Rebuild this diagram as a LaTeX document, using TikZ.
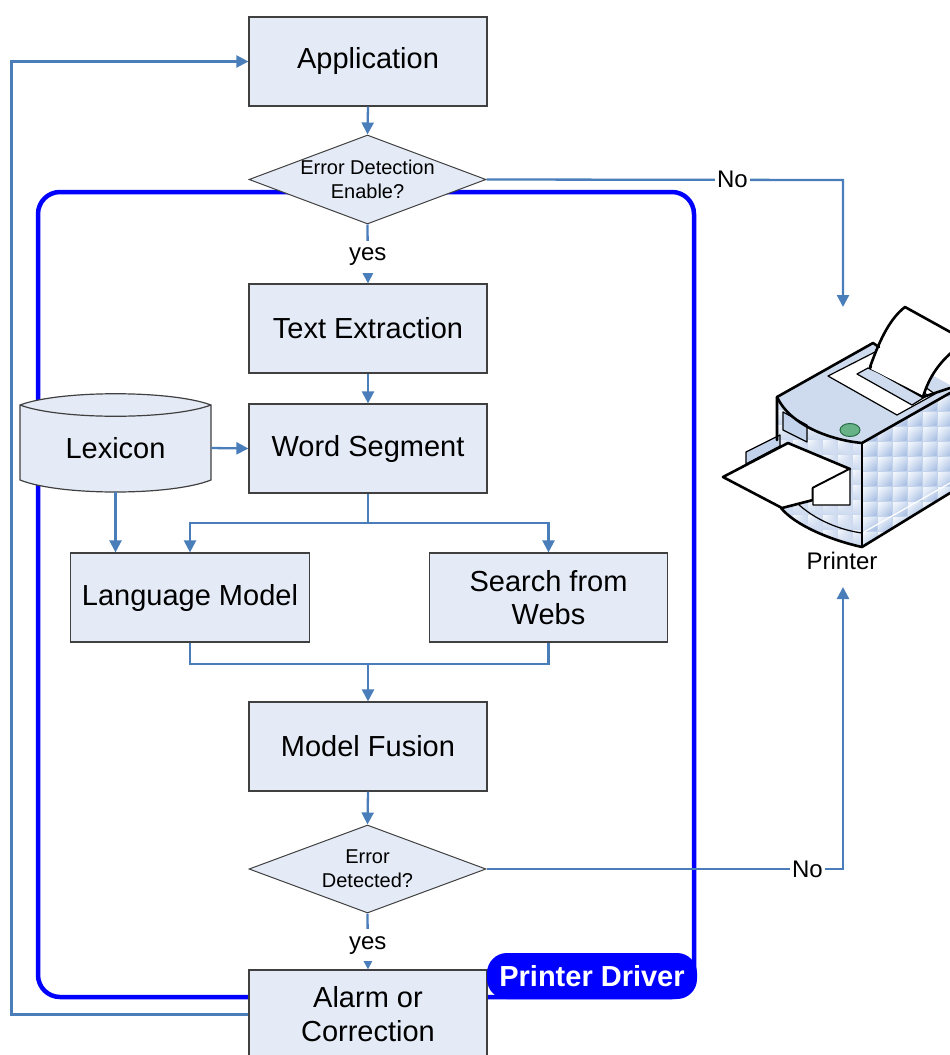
\documentclass[tikz,border=0pt]{standalone}
\usepackage{fontspec}
\setmainfont{Liberation Sans}
\usetikzlibrary{arrows.meta,shapes.geometric,calc,shadings}
\definecolor{flowline}{RGB}{74,126,187}
\definecolor{boxfill}{RGB}{228,235,246}
\definecolor{boxedge}{RGB}{64,64,64}
\definecolor{drvblue}{RGB}{0,0,255}
\definecolor{prtop}{RGB}{206,219,239}
\definecolor{prside}{RGB}{196,211,236}
\definecolor{prfront}{RGB}{204,217,238}
\definecolor{cellA}{RGB}{246,249,253}
\definecolor{cellB}{RGB}{210,223,242}
\definecolor{cellC}{RGB}{162,186,225}
\definecolor{btnfill}{RGB}{104,178,136}
\definecolor{btnedge}{RGB}{40,110,70}
\begin{document}
\begin{tikzpicture}[x=1pt,y=-1pt,
  box/.style={draw=boxedge, line width=1.2pt, fill=boxfill, minimum width=238pt,
    minimum height=89pt, inner sep=0pt, align=center, font=\fontsize{29}{33}\selectfont},
  decision/.style={diamond, draw=boxedge, line width=1pt, fill=boxfill,
    minimum width=237pt, minimum height=89pt, inner sep=0pt},
  qtext/.style={font=\fontsize{20}{24}\selectfont, align=center},
  arr/.style={draw=flowline, line width=2.3pt, -{Triangle[length=12pt,width=12pt]}},
  plain/.style={draw=flowline, line width=2.3pt},
  lbl/.style={fill=white, font=\fontsize{24}{28}\selectfont, inner xsep=2pt, inner ysep=4pt},
  prline/.style={draw=black, line width=2.6pt, line join=round, line cap=round},
  prthin/.style={draw=black, line width=1.2pt, line join=round}
]
\useasboundingbox (0,0) rectangle (950,1055);

% printer driver frame
\draw[drvblue, line width=4.5pt, rounded corners=22pt] (38,192) rectangle (694,997);

% flow nodes
\node[box] (app) at (368,61.5) {Application};
\node[decision, label={[qtext]center:Error Detection\\Enable?}] (d1) at (367.5,179.5) {};
\node[box] (tx) at (368,328.5) {Text Extraction};
\node[box] (ws) at (368,448.5) {Word Segment};
\node[box, minimum width=239pt] (lm) at (190,597.5) {Language Model};
\node[box] (sw) at (548.5,597.5) {Search from\\Webs};
\node[box] (mf) at (368,746.5) {Model Fusion};
\node[decision, minimum height=88pt, label={[qtext]center:Error\\Detected?}] (d2) at (367.5,869) {};
\node[box, font=\fontsize{29}{34}\selectfont] (al) at (368,1014.5) {Alarm or\\Correction};

% lexicon store
\draw[draw=boxedge, line width=1.2pt, fill=boxfill]
  (20,405) .. controls (60,390) and (171,390) .. (211,405) -- (211,480)
  .. controls (171,496) and (60,496) .. (20,480) -- cycle;
\draw[draw=boxedge, line width=1.2pt] (20,405) .. controls (60,420) and (171,420) .. (211,405);
\node[minimum width=191pt, minimum height=88pt, inner sep=0pt,
  font=\fontsize{29}{33}\selectfont] (lex) at (115.5,448) {Lexicon};

% driver tag
\node[fill=drvblue, rounded corners=20pt, minimum width=210pt, minimum height=46pt,
  inner sep=0pt, text=white, font=\bfseries\fontsize{29}{33}\selectfont] (pd) at (592,976) {Printer Driver};

% junction points
\coordinate (mj) at (368,664);
\coordinate (noA) at (843,180);
\coordinate (noB) at (843,869);
\coordinate (prTop) at (843,307);
\coordinate (prBot) at (843,587);

% connectors
\draw[arr] (app.south) -- (d1.north);
\draw[arr] (d1.south) -- node[lbl, minimum height=32pt, yshift=-3pt] {yes} (tx.north);
\draw[arr] (tx.south) -- (ws.north);
\draw[arr] (lex.east) -- (ws.west);
\draw[arr] (lex.south) -- (lex.south |- lm.north);
\draw[arr] (ws.south) -- ++(0,29.5) -| (lm.north);
\draw[arr] (ws.south) -- ++(0,29.5) -| (sw.north);
\draw[plain] (lm.south) |- (mj) -| (sw.south);
\draw[arr] (mj) -- (mf.north);
\draw[arr] (mf.south) -- (d2.north);
\draw[arr] (d2.south) -- node[lbl, minimum height=32pt, yshift=-4pt] {yes} (al.north);
\draw[arr] (al.west) -- ++(-237,0) |- (app.west);
\draw[arr] (d1.east) -- node[lbl, pos=0.69] {No} (noA) -- (prTop);
\draw[arr] (d2.east) -- node[lbl, pos=0.90] {No} (noB) -- (prBot);

% ---- printer drawing ----
% right side face with tiled finish
\fill[prside] (862,443) -- (950,393) -- (950,493) -- (862,547) -- cycle;
\begin{scope}
  \clip (862,443) -- (950,393) -- (950,493) -- (862,547) -- cycle;
  \foreach \i in {0,...,5}
    \foreach \j in {0,...,11}
      \shade[upper left=cellA, upper right=cellB, lower left=cellB, lower right=cellC]
        ({863+15*\i},{382+15*\j}) rectangle ++(13.5,13.5);
\end{scope}
\draw[white, line width=1.2pt] (864,532) -- (950,483);

% front face
\fill[prfront] (777,397) .. controls (790,425) and (830,440) .. (862,443) -- (862,547)
  .. controls (830,540) and (795,525) .. (781,508) -- cycle;
\begin{scope}
  \clip (777,397) .. controls (790,425) and (830,440) .. (862,443) -- (862,547)
    .. controls (830,540) and (795,525) .. (781,508) -- cycle;
  \foreach \i in {0,...,5}
    \foreach \j in {0,...,10}
      \shade[upper left=cellA, upper right=prfront, lower left=prfront, lower right=cellB]
        ({778+15*\i},{395+15*\j}) rectangle ++(13.5,13.5);
\end{scope}
\draw[prthin] (797,503) .. controls (815,520) and (840,530) .. (862,533);

% top face
\fill[prtop] (777,397) -- (873,343) -- (950,385) -- (950,393) -- (862,443)
  .. controls (830,440) and (790,425) .. (777,397) -- cycle;
% paper slot and strip
\filldraw[fill=white, prthin] (828,376) -- (875,352) -- (935,394) -- (897,415) -- cycle;
\filldraw[fill=prtop, prthin] (857,374) -- (868,368) -- (928,395) -- (912,405) -- cycle;
% sheet coming out of the top
\filldraw[fill=white, prline] (870,367) .. controls (878,345) and (888,320) .. (905,307)
  -- (952,333) -- (952,352) .. controls (937,365) and (928,380) .. (923,397) -- cycle;
\fill[white] (871,369) -- (922,395) -- (921,392) -- (873,366) -- cycle;

% window and button
\filldraw[fill=prside, prthin] (783,412) -- (807,425) -- (807,442) -- (783,430) -- cycle;
\filldraw[fill=btnfill, draw=btnedge, line width=1pt] (850,430) ellipse [x radius=10, y radius=6.5];

% output tray and sheet
\filldraw[fill=prside, prthin] (746,452) -- (780,435) -- (780,446) -- (746,464) -- cycle;
\filldraw[fill=white, prline] (723,477) -- (788,443) -- (850,469) -- (813,488) -- (813,500)
  -- (782,508) -- cycle;
\filldraw[fill=white, prthin] (813,488) -- (850,469) -- (850,505) -- (813,505) -- cycle;

% body outline
\draw[prline] (777,440) -- (777,397) -- (873,343) -- (879,347);
\draw[prline] (923,397) -- (950,388);
\draw[prline] (777,397) .. controls (790,425) and (830,440) .. (862,443) -- (950,393);
\draw[prthin] (862,443) -- (862,547);
\draw[prline] (781,508) .. controls (795,525) and (830,540) .. (862,547) -- (950,493);

\node[font=\fontsize{24}{28}\selectfont, inner sep=0pt] (prl) at (842,561) {Printer};
\end{tikzpicture}
\end{document}
